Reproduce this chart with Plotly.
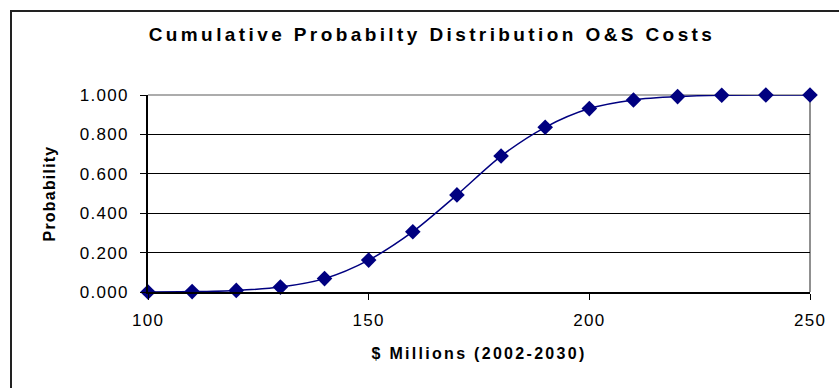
import plotly.graph_objects as go

cost = [100, 110, 120, 130, 140, 150, 160, 170, 180, 190, 200, 210, 220, 230, 240, 250]
prob = [0.000, 0.002, 0.008, 0.025, 0.068, 0.162, 0.306, 0.493, 0.690, 0.836, 0.931, 0.975, 0.992, 0.999, 1.000, 1.000]

x_tick_vals = [100, 150, 200, 250]
x_tick_text = ["100", "150", "200", "250"]
y_tick_vals = [0.0, 0.2, 0.4, 0.6, 0.8, 1.0]
y_tick_text = ["0.000", "0.200", "0.400", "0.600", "0.800", "1.000"]

title_text = "Cumulative Probabilty Distribution O&S Costs"
x_title = "$ Millions (2002-2030)"
y_title = "Probability"

navy = "#000080"
FONT = "Liberation Sans, Arial, sans-serif"


def spaced(s, px):
    return '<span style="letter-spacing:%spx">%s</span>' % (px, s)


fig = go.Figure()
fig.add_trace(go.Scatter(
    x=cost, y=prob, mode="lines+markers",
    line=dict(color=navy, width=1.5, shape="spline", smoothing=0.8),
    marker=dict(symbol="diamond", size=12, color=navy),
    cliponaxis=False, showlegend=False,
))

W, H = 839, 388
L, R, T, B = 148, 29, 95, 96
pw, ph = W - L - R, H - T - B


def px_x(p):
    return (p - L) / pw


def px_y(p):
    return (H - B - p) / ph


fig.update_layout(
    width=W, height=H,
    margin=dict(l=L, r=R, t=T, b=B),
    paper_bgcolor="white", plot_bgcolor="white",
    font=dict(family=FONT, color="black"),
    title=dict(
        text=spaced(title_text, 3.4),
        x=432 / W, xref="container", xanchor="center",
        y=1 - 34 / H, yref="container", yanchor="middle",
        font=dict(size=19, family=FONT, weight="bold", color="black"),
    ),
    xaxis=dict(
        range=[100, 250], tickmode="array", tickvals=x_tick_vals,
        ticktext=[spaced(t, 1.3) for t in x_tick_text],
        showline=True, linecolor="black", linewidth=1.5,
        ticks="outside", ticklen=6, tickcolor="black", tickwidth=1,
        ticklabelstandoff=6,
        showgrid=False, zeroline=False,
        tickfont=dict(size=17),
        title=dict(text=spaced(x_title, 2.3),
                   font=dict(size=16, weight="bold"), standoff=19),
    ),
    yaxis=dict(
        range=[0, 1], tickmode="array", tickvals=y_tick_vals,
        ticktext=[spaced(t, 1.3) for t in y_tick_text],
        showline=True, linecolor="black", linewidth=1.5,
        ticks="outside", ticklen=6, tickcolor="black", tickwidth=1,
        ticklabelstandoff=8,
        showgrid=True, gridcolor="black", gridwidth=1, zeroline=False,
        tickfont=dict(size=17),
        title=dict(text=spaced(y_title, 1.2), font=dict(size=16, weight="bold"), standoff=20),
    ),
    shapes=[
        dict(type="line", xref="paper", yref="paper", x0=0, x1=1, y0=1, y1=1,
             line=dict(color="#909090", width=1.5), layer="below"),
        dict(type="line", xref="paper", yref="paper", x0=1, x1=1, y0=0, y1=1,
             line=dict(color="#909090", width=2), layer="below"),
        dict(type="rect", xref="paper", yref="paper",
             x0=px_x(11), x1=px_x(848), y0=px_y(398), y1=px_y(11),
             line=dict(color="#222222", width=2), layer="below"),
    ],
)

fig.write_html("out.html")
